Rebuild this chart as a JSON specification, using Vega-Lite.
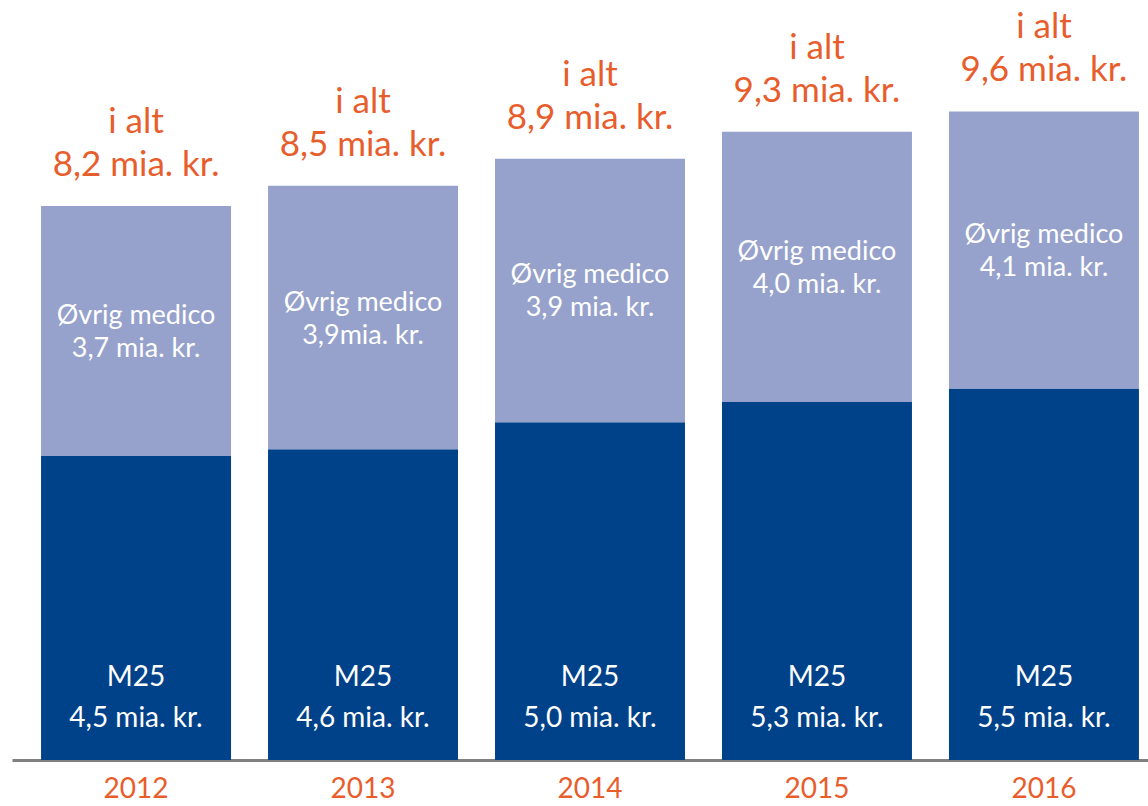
{
  "$schema": "https://vega.github.io/schema/vega-lite/v6.json",
  "width": 1148,
  "height": 760,
  "autosize": {"type": "none"},
  "padding": {"left": 0, "top": 0, "right": 0, "bottom": 46},
  "background": "white",
  "config": {"view": {"stroke": null}, "font": "Lato"},
  "data": {
    "values": [
      {"year": "2012", "m25": 4.5, "ovrig": 3.7, "total": 8.2, "m25_lbl": "4,5 mia. kr.", "ovrig_lbl": "3,7 mia. kr.", "total_lbl": "8,2 mia. kr."},
      {"year": "2013", "m25": 4.6, "ovrig": 3.9, "total": 8.5, "m25_lbl": "4,6 mia. kr.", "ovrig_lbl": "3,9mia. kr.", "total_lbl": "8,5 mia. kr."},
      {"year": "2014", "m25": 5.0, "ovrig": 3.9, "total": 8.9, "m25_lbl": "5,0 mia. kr.", "ovrig_lbl": "3,9 mia. kr.", "total_lbl": "8,9 mia. kr."},
      {"year": "2015", "m25": 5.3, "ovrig": 4.0, "total": 9.3, "m25_lbl": "5,3 mia. kr.", "ovrig_lbl": "4,0 mia. kr.", "total_lbl": "9,3 mia. kr."},
      {"year": "2016", "m25": 5.5, "ovrig": 4.1, "total": 9.6, "m25_lbl": "5,5 mia. kr.", "ovrig_lbl": "4,1 mia. kr.", "total_lbl": "9,6 mia. kr."}
    ]
  },
  "transform": [{"calculate": "datum.m25 + datum.ovrig / 2", "as": "mid"}],
  "encoding": {
    "x": {
      "field": "year", "type": "nominal", "sort": null,
      "scale": {"range": [12, 1168], "paddingInner": 0.163, "paddingOuter": 0.128},
      "axis": {"title": null, "ticks": false, "domainColor": "#808080", "domainWidth": 3, "labelColor": "#e85d2c", "labelFont": "Lato", "labelFontSize": 28, "labelBaseline": "alphabetic", "labelPadding": 37, "labelAngle": 0}
    }
  },
  "layer": [
    {"mark": {"type": "bar", "color": "#00428a"},
     "encoding": {"y": {"field": "m25", "type": "quantitative", "scale": {"domain": [0, 11.25], "nice": false, "zero": true}, "axis": null}}},
    {"mark": {"type": "bar", "color": "#96a2cb"},
     "encoding": {"y": {"field": "m25", "type": "quantitative"}, "y2": {"field": "total"}}},
    {"mark": {"type": "text", "color": "white", "fontSize": 28, "baseline": "alphabetic", "dy": -74},
     "encoding": {"y": {"datum": 0, "type": "quantitative"}, "text": {"value": "M25"}}},
    {"mark": {"type": "text", "color": "white", "fontSize": 28, "baseline": "alphabetic", "dy": -33},
     "encoding": {"y": {"datum": 0, "type": "quantitative"}, "text": {"field": "m25_lbl"}}},
    {"mark": {"type": "text", "color": "white", "fontSize": 27, "baseline": "alphabetic", "dy": -7},
     "encoding": {"y": {"field": "mid", "type": "quantitative"}, "text": {"value": "Øvrig medico"}}},
    {"mark": {"type": "text", "color": "white", "fontSize": 27, "baseline": "alphabetic", "dy": 26},
     "encoding": {"y": {"field": "mid", "type": "quantitative"}, "text": {"field": "ovrig_lbl"}}},
    {"mark": {"type": "text", "color": "#e85d2c", "fontSize": 35, "baseline": "alphabetic", "dy": -73},
     "encoding": {"y": {"field": "total", "type": "quantitative"}, "text": {"value": "i alt"}}},
    {"mark": {"type": "text", "color": "#e85d2c", "fontSize": 35, "baseline": "alphabetic", "dy": -30},
     "encoding": {"y": {"field": "total", "type": "quantitative"}, "text": {"field": "total_lbl"}}}
  ]
}
